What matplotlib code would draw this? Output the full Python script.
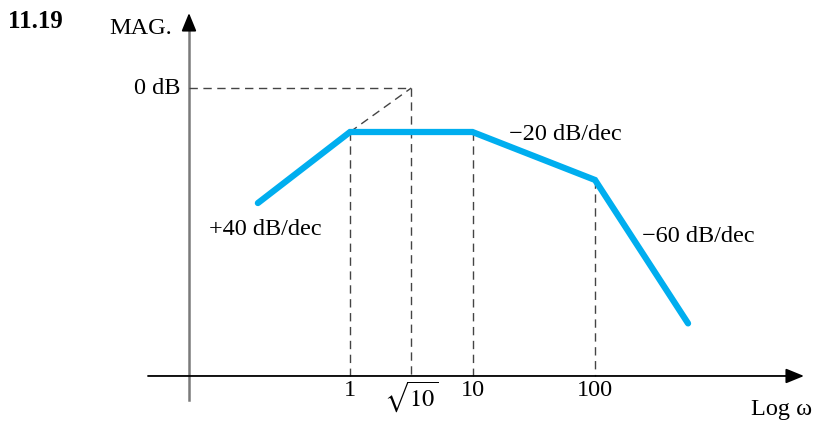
import numpy as np
import matplotlib
matplotlib.use("Agg")
import matplotlib.pyplot as plt

# Bode magnitude asymptotes (dB)
omega = [0.177, 1, 10, 100, 575]
mag_db = [-52.3, -20, -20, -41.8, -107]

tick_omega = [1, np.sqrt(10), 10, 100]
tick_labels = ["1", r"$\sqrt{10}$", "10", "100"]
corner_omega = [1, 10, 100]
corner_db = [-20, -20, -41.8]

plt.rcParams["font.family"] = ["Liberation Serif", "DejaVu Serif"]
plt.rcParams["mathtext.fontset"] = "stix"

fig = plt.figure(figsize=(8.13, 4.22), dpi=100)
ax = fig.add_axes([0, 0, 1, 1])
ax.set_xscale("log")
# 1 decade ~ 122.5 px, 1 dB ~ 2.2 px
ax.set_xlim(10 ** (-350 / 122.5), 10 ** (463 / 122.5))
ax.set_ylim(-334 / 2.2, 88 / 2.2)
ax.axis("off")

x_axis_db = -130.9
y_axis_w = 10 ** ((189 - 350) / 122.5)
x_left = 10 ** ((148 - 350) / 122.5)
x_right = 10 ** ((804 - 350) / 122.5)
y_bottom = -(400 - 88) / 2.2
y_top = (88 - 13) / 2.2
y_head = (88 - 30) / 2.2

# axes with arrows
ax.annotate("", xy=(x_right, x_axis_db), xytext=(x_left, x_axis_db),
            arrowprops=dict(arrowstyle="-|>,head_length=1.1,head_width=0.45",
                            color="black", lw=1.3, shrinkA=0, shrinkB=0))
ax.plot([y_axis_w, y_axis_w], [y_bottom, y_head], color="#7a7a7a", lw=1.8)
ax.annotate("", xy=(y_axis_w, y_top), xytext=(y_axis_w, y_head),
            arrowprops=dict(arrowstyle="-|>,head_length=1.1,head_width=0.45",
                            color="black", lw=1.3, shrinkA=0, shrinkB=0))

dash = dict(color="#444444", lw=1.0, ls=(0, (6, 4)))
# 0 dB reference and the sqrt(10) construction
ax.plot([y_axis_w, np.sqrt(10)], [0, 0], **dash)
ax.plot([np.sqrt(10), np.sqrt(10)], [0, x_axis_db], **dash)
ax.plot([1, np.sqrt(10)], [-20, 0], **dash)
for w, m in zip(corner_omega, corner_db):
    ax.plot([w, w], [m, x_axis_db], **dash)

ax.plot(omega, mag_db, color="#00aeef", lw=4.5, solid_capstyle="round",
        solid_joinstyle="miter", zorder=5)

fs = 17.5
base_db = -(396 - 88) / 2.2
top_db = -(379 - 88) / 2.2
for w, lab in zip(tick_omega, tick_labels):
    if lab.startswith("$"):
        # radical bar has to clear the axis line
        ax.text(w, top_db, lab, ha="center", va="top", fontsize=fs)
    else:
        ax.text(w, base_db, lab, ha="center", va="baseline", fontsize=fs)

W, H = 813, 422
fig.text(8 / W, 1 - 22 / H, "11.19", fontsize=18, fontweight="bold", va="center")
fig.text(172 / W, 1 - 29 / H, "MAG.", fontsize=fs, ha="right", va="center")
fig.text(180 / W, 1 - 88 / H, "0 dB", fontsize=fs, ha="right", va="center")
fig.text(751 / W, 1 - 409 / H, "Log ω", fontsize=fs, va="center")
fig.text(509 / W, 1 - 135 / H, "\u221220 dB/dec", fontsize=fs, va="center")
fig.text(642 / W, 1 - 236 / H, "\u221260 dB/dec", fontsize=fs, va="center")
fig.text(209 / W, 1 - 230 / H, "+40 dB/dec", fontsize=fs, va="center")

fig.savefig("out.png", dpi=100)
